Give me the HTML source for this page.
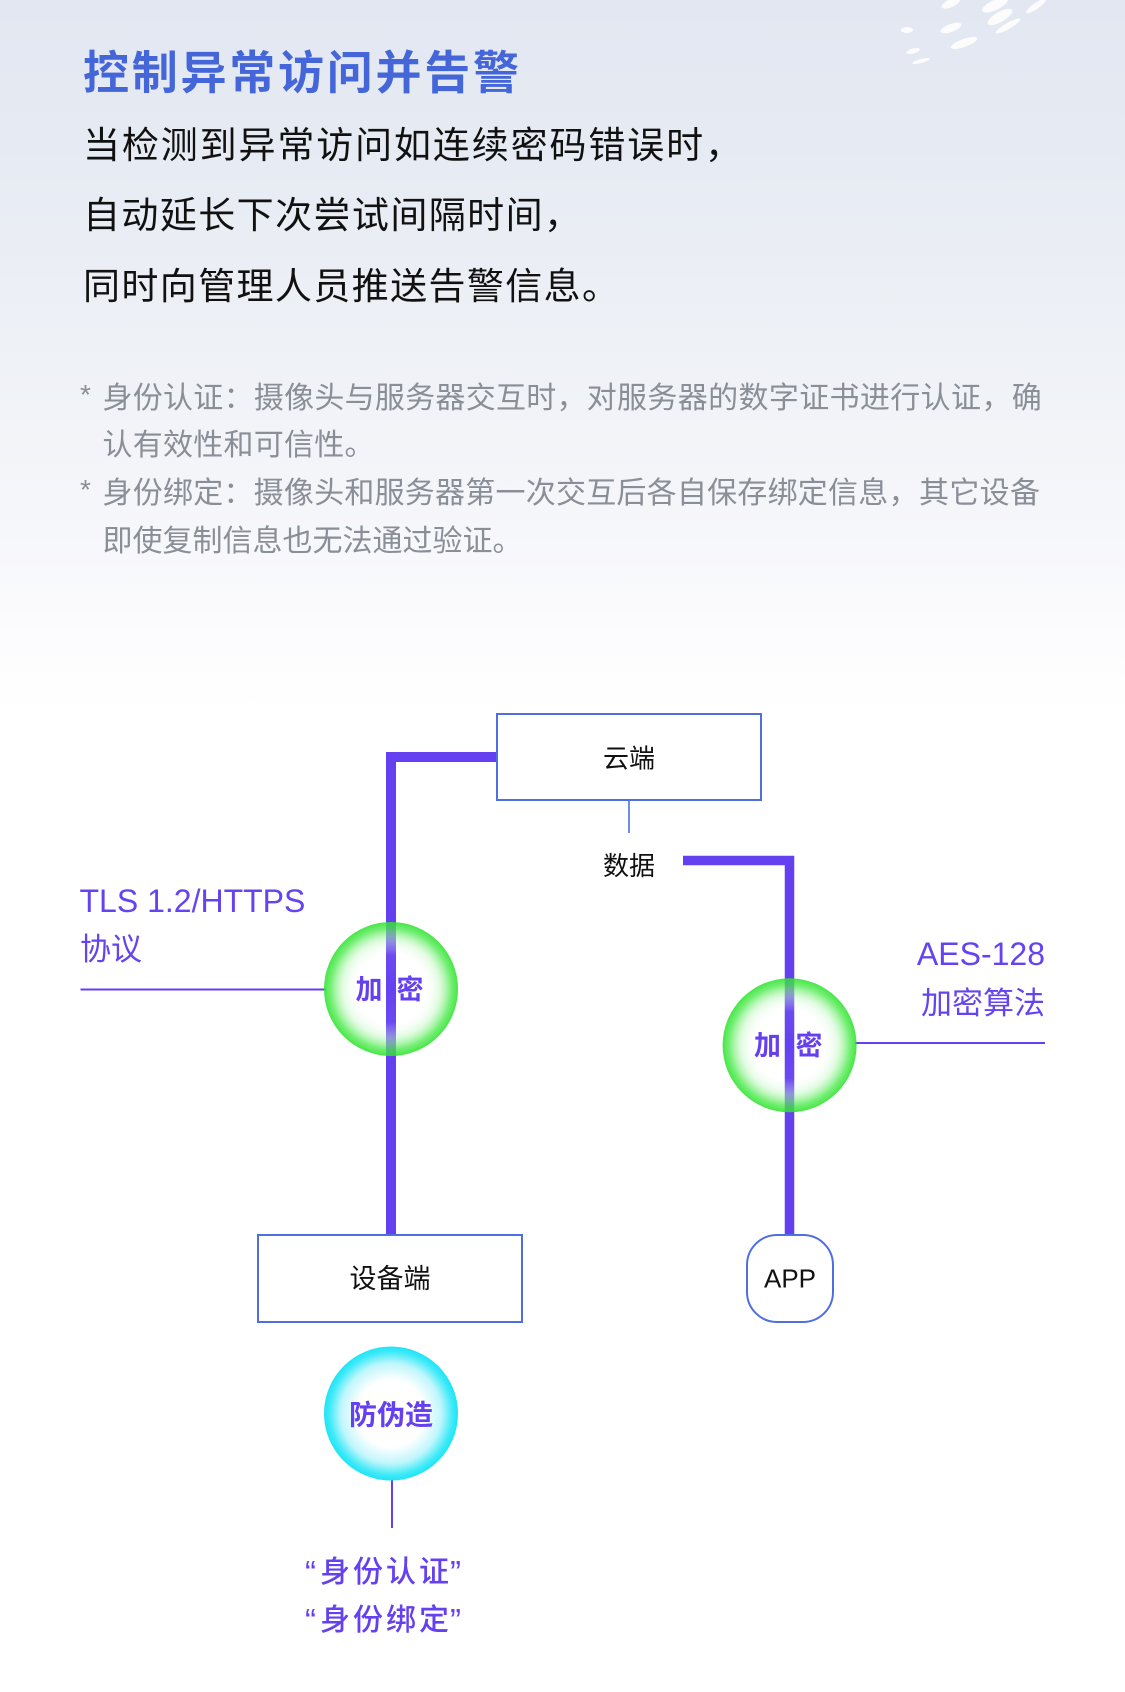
<!DOCTYPE html>
<html><head><meta charset="utf-8"><style>
html,body{margin:0;padding:0;background:#fff;}
svg{display:block;}
text{font-family:"Liberation Sans","Noto Sans CJK SC",sans-serif;}
</style></head><body>
<svg width="1125" height="1692" viewBox="0 0 1125 1692" xmlns="http://www.w3.org/2000/svg">
<defs>
<linearGradient id="bg" x1="0" y1="0" x2="0" y2="1">
<stop offset="0" stop-color="#e2e7f1"/>
<stop offset="0.1" stop-color="#e7ebf3"/>
<stop offset="0.2" stop-color="#eef1f6"/>
<stop offset="0.3" stop-color="#f5f6fa"/>
<stop offset="0.38" stop-color="#fcfcfe"/>
<stop offset="0.42" stop-color="#ffffff"/>
<stop offset="1" stop-color="#ffffff"/>
</linearGradient>
<radialGradient id="green" cx="0.5" cy="0.5" r="0.5">
<stop offset="0" stop-color="#ffffff" stop-opacity="0"/>
<stop offset="0.5" stop-color="#ffffff" stop-opacity="0.05"/>
<stop offset="0.72" stop-color="#c0f7c0" stop-opacity="0.45"/>
<stop offset="0.9" stop-color="#48ea48" stop-opacity="0.75"/>
<stop offset="1" stop-color="#2ee22e" stop-opacity="0.88"/>
</radialGradient>
<radialGradient id="cyan" cx="0.5" cy="0.5" r="0.5">
<stop offset="0" stop-color="#ffffff"/>
<stop offset="0.5" stop-color="#ffffff"/>
<stop offset="0.75" stop-color="#bff6fc"/>
<stop offset="0.92" stop-color="#3eeaf8"/>
<stop offset="1" stop-color="#1ee4f6"/>
</radialGradient>
</defs>
<rect x="0" y="0" width="1125" height="1692" fill="url(#bg)"/>
<!-- top-right decoration -->
<g fill="#ffffff" opacity="0.9">
<ellipse cx="951" cy="3" rx="10" ry="4" transform="rotate(-25 951 3)"/>
<ellipse cx="995" cy="5" rx="14" ry="5" transform="rotate(-25 995 5)"/>
<ellipse cx="1000" cy="17" rx="14" ry="5" transform="rotate(-30 1000 17)"/>
<ellipse cx="1036" cy="6" rx="12" ry="3" transform="rotate(-35 1036 6)"/>
<ellipse cx="1008" cy="26" rx="14" ry="3" transform="rotate(-30 1008 26)"/>
<ellipse cx="951" cy="28" rx="11" ry="4" transform="rotate(-20 951 28)"/>
<ellipse cx="907" cy="30" rx="6" ry="3"/>
<ellipse cx="964" cy="43" rx="14" ry="4" transform="rotate(-20 964 43)"/>
<ellipse cx="913" cy="51" rx="7" ry="2.5" transform="rotate(-15 913 51)"/>
<ellipse cx="921" cy="61" rx="9" ry="2" transform="rotate(-15 921 61)"/>
</g>

<!-- Title -->
<text x="83" y="89" font-size="46" font-weight="bold" fill="#4466d8" textLength="436" lengthAdjust="spacing">控制异常访问并告警</text>
<!-- Body -->
<g font-size="37" fill="#111111">
<text x="83" y="158" textLength="659" lengthAdjust="spacing">当检测到异常访问如连续密码错误时，</text>
<text x="83" y="228" textLength="498" lengthAdjust="spacing">自动延长下次尝试间隔时间，</text>
<text x="83" y="299" textLength="536" lengthAdjust="spacing">同时向管理人员推送告警信息。</text>
</g>
<!-- Footnotes -->
<g font-size="30" fill="#8a8e96">
<text x="80" y="404" font-size="28">*</text>
<text x="102.5" y="408" textLength="484" lengthAdjust="spacing">身份认证：摄像头与服务器交互时，</text>
<text x="586.7" y="408" textLength="455" lengthAdjust="spacing">对服务器的数字证书进行认证，确</text>
<text x="102.5" y="455" textLength="272" lengthAdjust="spacing">认有效性和可信性。</text>
<text x="80" y="499" font-size="28">*</text>
<text x="102.5" y="503" textLength="816" lengthAdjust="spacing">身份绑定：摄像头和服务器第一次交互后各自保存绑定信息，</text>
<text x="919" y="503" textLength="121" lengthAdjust="spacing">其它设备</text>
<text x="102.5" y="551" textLength="420" lengthAdjust="spacing">即使复制信息也无法通过验证。</text>
</g>

<!-- Thick connectors -->
<path d="M497 757 H391 V1235" fill="none" stroke="#6440f0" stroke-width="10" stroke-linejoin="miter"/>
<path d="M683 860.5 H789.5 V1235" fill="none" stroke="#6440f0" stroke-width="9.5" stroke-linejoin="miter"/>

<!-- thin lines -->
<line x1="629" y1="789" x2="629" y2="833" stroke="#5070e0" stroke-width="1.6"/>
<line x1="80.5" y1="989.5" x2="326" y2="989.5" stroke="#6440f0" stroke-width="2"/>
<line x1="855" y1="1043" x2="1045" y2="1043" stroke="#6440f0" stroke-width="2"/>
<line x1="392" y1="1480" x2="392" y2="1528" stroke="#6440f0" stroke-width="2"/>

<!-- Boxes -->
<rect x="497" y="714" width="264" height="86" fill="#ffffff" stroke="#4f6fe0" stroke-width="2"/>
<rect x="258" y="1235" width="264" height="87" fill="#ffffff" stroke="#4f6fe0" stroke-width="2"/>
<rect x="747" y="1235" width="86" height="87" rx="30" ry="30" fill="#ffffff" stroke="#4f6fe0" stroke-width="2"/>

<g font-size="26" fill="#111111" text-anchor="middle">
<text x="629" y="767.5">云端</text>
<text x="629" y="875">数据</text>
<text x="390" y="1288" font-size="27">设备端</text>
<text x="790" y="1287.5">APP</text>
</g>

<!-- Circles -->
<circle cx="391" cy="989" r="67" fill="url(#green)"/>
<circle cx="789.6" cy="1045.3" r="67" fill="url(#green)"/>
<circle cx="391" cy="1413.5" r="67" fill="url(#cyan)"/>

<g font-size="27" font-weight="bold" fill="#6440f0" text-anchor="middle">
<text x="369" y="999">加</text>
<text x="410" y="999">密</text>
<text x="767.5" y="1055">加</text>
<text x="809" y="1055">密</text>
<text x="391" y="1424.5" font-size="28">防伪造</text>
</g>

<!-- side labels -->
<g font-size="32" fill="#6444f0">
<text x="79.5" y="912">TLS 1.2/HTTPS</text>
<text x="80" y="960" font-size="31">协议</text>
<text x="1045" y="965" text-anchor="end">AES-128</text>
<text x="1045" y="1014" font-size="31" text-anchor="end">加密算法</text>
</g>

<!-- quotes -->
<g font-size="30" font-weight="500" fill="#6440f0">
<text x="305" y="1584" font-size="33">“</text>
<text x="320" y="1582" textLength="129" lengthAdjust="spacing">身份认证</text>
<text x="450" y="1584" font-size="33">”</text>
<text x="305" y="1632" font-size="33">“</text>
<text x="320" y="1630" textLength="129" lengthAdjust="spacing">身份绑定</text>
<text x="450" y="1632" font-size="33">”</text>
</g>
</svg>
</body></html>
